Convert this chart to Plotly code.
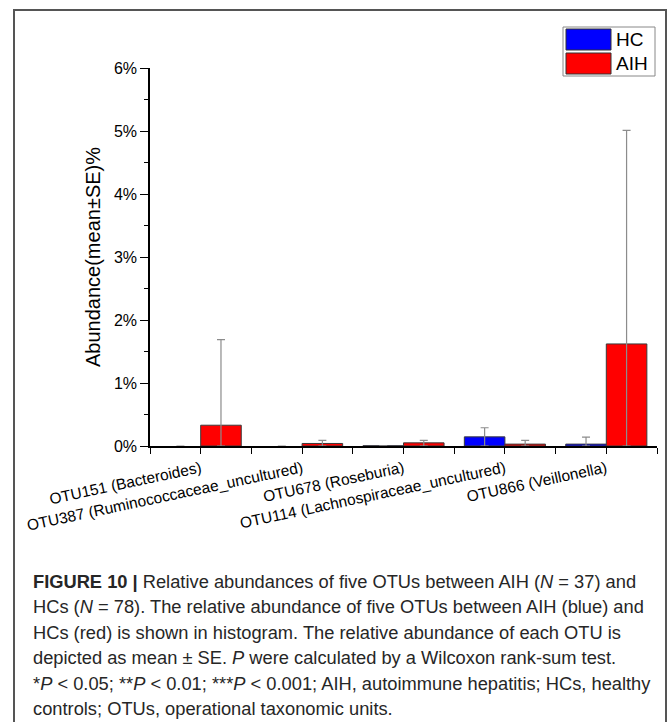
import plotly.graph_objects as go

# ---- data (values in %) ----
otus = ["OTU151 (Bacteroides)", "OTU387 (Ruminococcaceae_uncultured)",
        "OTU678 (Roseburia)", "OTU114 (Lachnospiraceae_uncultured)",
        "OTU866 (Veillonella)"]
group_pos = [1, 3, 5, 7, 9]
hc_mean = [0.0, 0.0, 0.004, 0.145, 0.03]
hc_se = [0.0, 0.0, 0.0, 0.145, 0.11]
aih_mean = [0.33, 0.04, 0.05, 0.03, 1.62]
aih_se = [1.36, 0.05, 0.04, 0.06, 3.39]
series_names = ["HC", "AIH"]
series_colors = ["#0000FF", "#FF0000"]
y_ticks = [0, 1, 2, 3, 4, 5, 6]
y_tick_text = [f"{v}%" for v in y_ticks]
caption_lines = [
    "<b>FIGURE 10 |</b> Relative abundances of five OTUs between AIH (<i>N</i> = 37) and",
    "HCs (<i>N</i> = 78). The relative abundance of five OTUs between AIH (blue) and",
    "HCs (red) is shown in histogram. The relative abundance of each OTU is",
    "depicted as mean ± SE. <i>P</i> were calculated by a Wilcoxon rank-sum test.",
    "*<i>P</i> &lt; 0.05; **<i>P</i> &lt; 0.01; ***<i>P</i> &lt; 0.001; AIH, autoimmune hepatitis; HCs, healthy",
    "controls; OTUs, operational taxonomic units.",
]

W, H = 669, 722
L, R, T, B = 150, 12, 68, 276
PW, PH = W - L - R, H - T - B


def px(x):
    return (x - L) / PW


def py(y):
    return (H - B - y) / PH


BW = 0.8
fig = go.Figure()
for name, color, means, ses, off in [
    (series_names[0], series_colors[0], hc_mean, hc_se, -BW / 2),
    (series_names[1], series_colors[1], aih_mean, aih_se, BW / 2),
]:
    fig.add_trace(go.Bar(
        x=[g + off for g in group_pos], y=means, width=BW, name=name,
        marker=dict(color=color,
                    line=dict(color="#3a3a3a", width=[0 if v == 0 else 1 for v in means])),
        error_y=dict(type="data", array=ses, arrayminus=means, symmetric=False,
                     color="#8c8c8c", thickness=1.2, width=4),
        showlegend=False,
    ))

font = "Liberation Sans, Arial, sans-serif"
tickvals = list(range(0, 11))
ticktext = ["" for _ in tickvals]
for g, n in zip(group_pos, otus):
    ticktext[g] = n

fig.update_layout(
    width=W, height=H,
    margin=dict(l=L, r=R, t=T, b=B),
    paper_bgcolor="white", plot_bgcolor="white",
    font=dict(family=font, color="black"),
    barmode="overlay",
    xaxis=dict(range=[0, 10], tickvals=tickvals, ticktext=ticktext,
               tickangle=-12, ticks="outside", ticklen=6, tickcolor="black",
               showline=True, linecolor="black", linewidth=1.5,
               showgrid=False, zeroline=False, tickfont=dict(size=15.5)),
    yaxis=dict(range=[0, 6], tickvals=y_ticks, ticktext=y_tick_text,
               ticks="outside", ticklen=8, tickcolor="black",
               minor=dict(dtick=0.5, ticks="outside", ticklen=4, tickcolor="black"),
               showline=True, linecolor="black", linewidth=1.5,
               showgrid=False, zeroline=False, tickfont=dict(size=16),
               title=dict(text="Abundance(mean±SE)%", font=dict(size=20), standoff=8)),
)

shapes = []
# outer frame
shapes.append(dict(type="rect", xref="paper", yref="paper",
                   x0=px(14), x1=px(666), y0=py(730), y1=py(10),
                   line=dict(color="#555555", width=2), fillcolor="rgba(0,0,0,0)", layer="below"))
# legend box
shapes.append(dict(type="rect", xref="paper", yref="paper",
                   x0=px(563), x1=px(655), y0=py(76), y1=py(27),
                   line=dict(color="#888888", width=1), fillcolor="white"))
annotations = []
for i, (n, c) in enumerate(zip(series_names, series_colors)):
    top = 29 + i * 24
    shapes.append(dict(type="rect", xref="paper", yref="paper",
                       x0=px(566), x1=px(611), y0=py(top + 21), y1=py(top),
                       line=dict(color="#333333", width=1), fillcolor=c))
    annotations.append(dict(text=n, xref="paper", yref="paper", x=px(614), y=py(top + 10.5),
                            xanchor="left", yanchor="middle", showarrow=False,
                            font=dict(size=19, family=font)))

for i, line in enumerate(caption_lines):
    annotations.append(dict(text=line, xref="paper", yref="paper", x=px(31),
                            y=py(581 + i * 25.5), xanchor="left", yanchor="middle",
                            showarrow=False, align="left",
                            font=dict(size=18.3, family=font, color="#262626")))

fig.update_layout(shapes=shapes, annotations=annotations)
fig.write_html("out.html", config={"displayModeBar": False},
               post_script="document.body.style.margin='0px';")
